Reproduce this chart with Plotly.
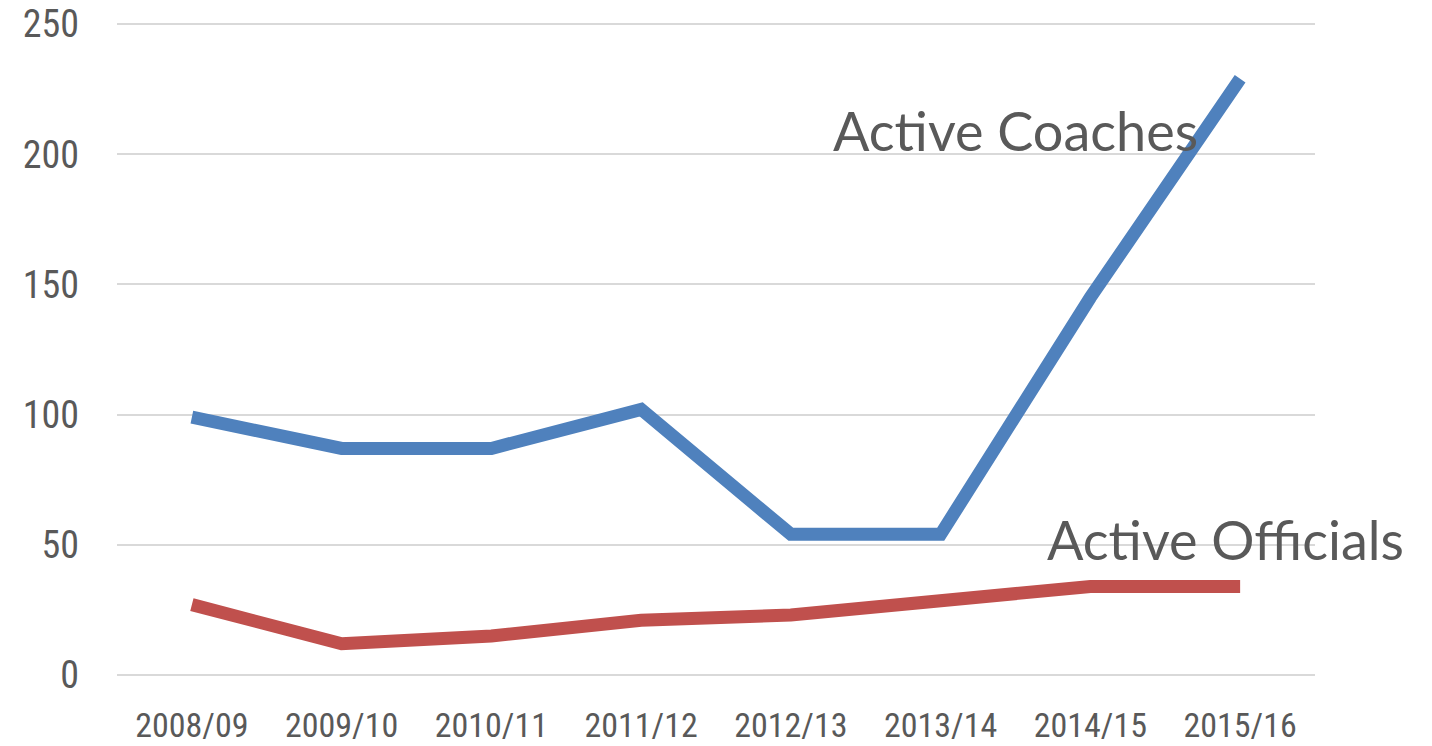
import plotly.graph_objects as go

seasons = ["2008/09", "2009/10", "2010/11", "2011/12", "2012/13", "2013/14", "2014/15", "2015/16"]
coaches = [99, 87, 87, 102, 54, 54, 145, 229]
officials = [27, 12, 15, 21, 23, 29, 34, 34]
y_ticks = [0, 50, 100, 150, 200, 250]

TXT = "#595959"
FAMILY = "Liberation Sans Narrow, Arial Narrow, Roboto Condensed, Liberation Sans, sans-serif"
XFONT = dict(family=FAMILY, size=34, color=TXT)
YFONT = dict(family=FAMILY, size=38, color=TXT)
LABELFONT = dict(family="Lato, Open Sans, sans-serif", size=54, color=TXT)

fig = go.Figure()
fig.add_trace(go.Scatter(x=seasons, y=coaches, mode="lines", name="Active Coaches",
                         line=dict(color="#4F81BD", width=13)))
fig.add_trace(go.Scatter(x=seasons, y=officials, mode="lines", name="Active Officials",
                         line=dict(color="#C0504D", width=13)))

fig.add_annotation(x=4.27, y=209, xref="x", yref="y", text="Active Coaches", showarrow=False,
                   xanchor="left", yanchor="middle", font=LABELFONT)
fig.add_annotation(x=5.70, y=52, xref="x", yref="y", text="Active Officials", showarrow=False,
                   xanchor="left", yanchor="middle", font=LABELFONT)

fig.update_layout(
    width=1432, height=746,
    margin=dict(l=117, r=117, t=23, b=70),
    paper_bgcolor="white", plot_bgcolor="white",
    showlegend=False,
    xaxis=dict(type="category", range=[-0.5, 7.5], showgrid=False, showline=False,
               zeroline=False, tickfont=XFONT, ticklabelstandoff=26, automargin=False),
    yaxis=dict(range=[-0.4, 250.4], tickvals=y_ticks, showgrid=True, gridcolor="#D9D9D9",
               gridwidth=1.5, zeroline=False, showline=False, tickfont=YFONT,
               ticklabelstandoff=37, automargin=False),
)

fig.write_html("out.html", config={"displayModeBar": False},
               post_script="document.body.style.margin='0';document.body.style.overflow='hidden';")
